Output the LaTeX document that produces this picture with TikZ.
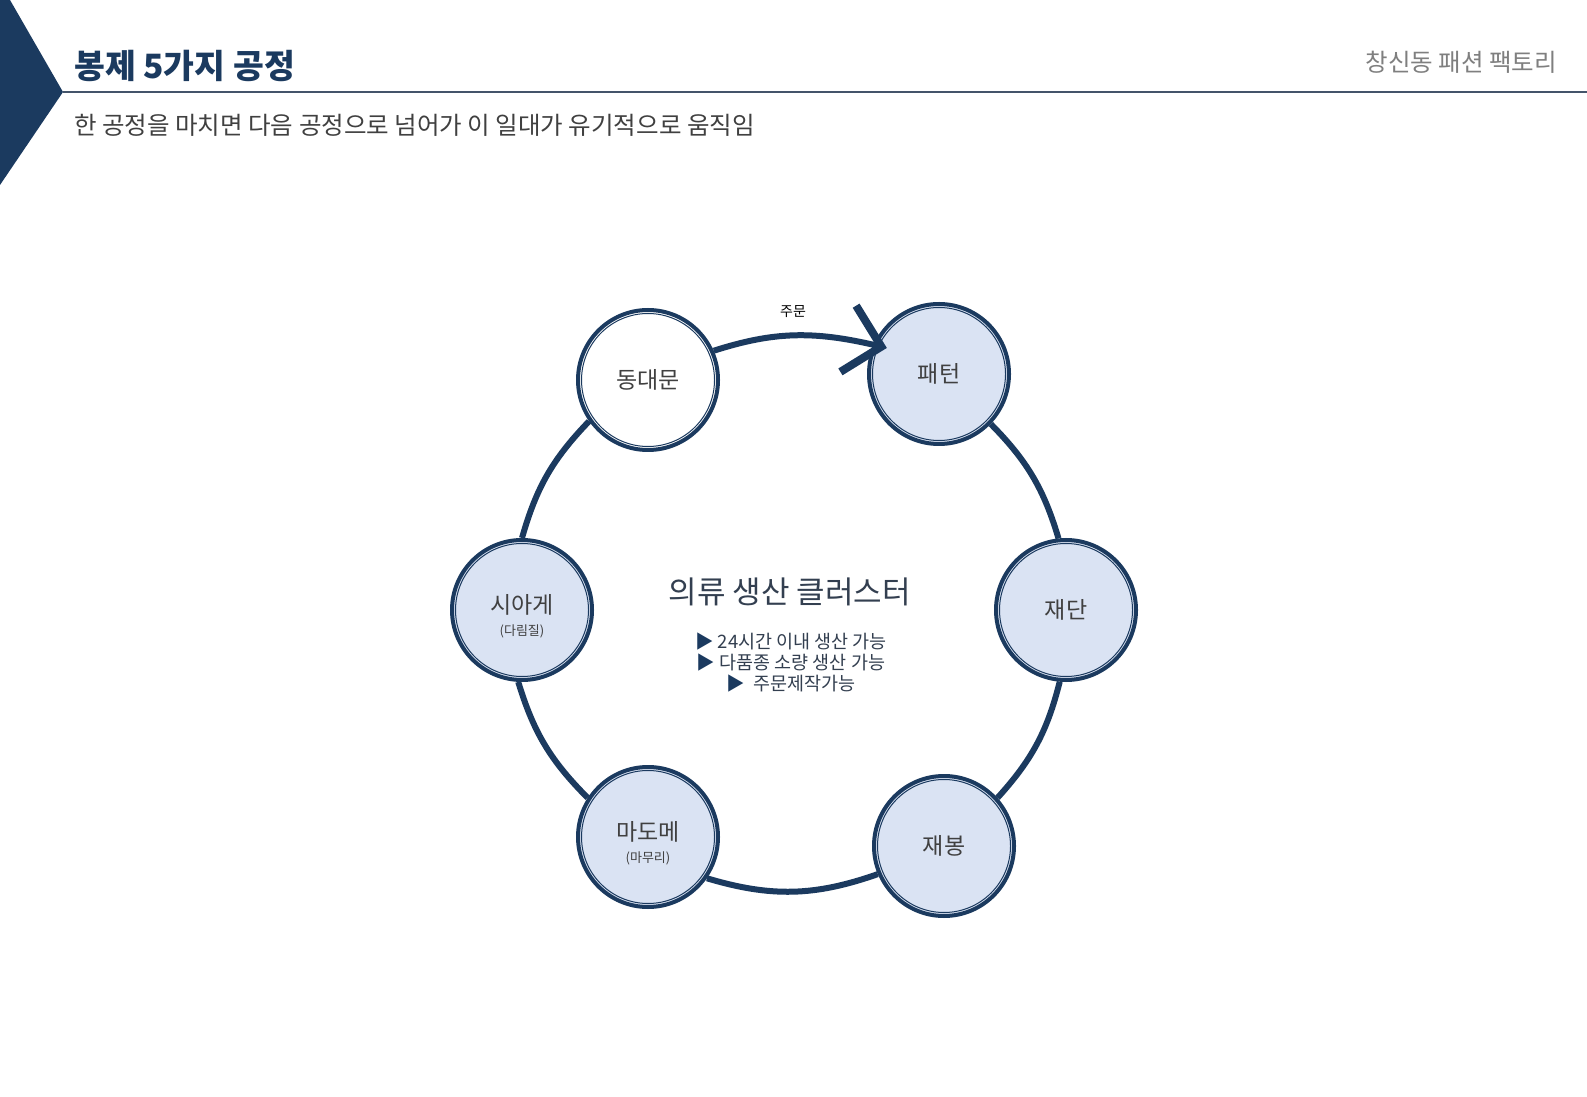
\documentclass[tikz,border=0pt]{standalone}
\usepackage{fontspec}
\setmainfont{Noto Sans CJK KR}
\usetikzlibrary{arrows.meta}
\definecolor{navy}{HTML}{1B3A5F}
\definecolor{paleblue}{HTML}{DAE3F3}
\definecolor{inkgray}{HTML}{404040}
\definecolor{slate}{HTML}{333F50}
\definecolor{rulegray}{HTML}{44546A}
\definecolor{softgray}{HTML}{7F7F7F}
\tikzset{
  stage/.style={circle, draw=navy, line width=4pt, fill=paleblue, minimum size=140pt, inner sep=0pt,
    align=center, text=inkgray, font=\fontsize{23}{26}\selectfont,
    path picture={\draw[navy, line width=1pt] (path picture bounding box.center) circle[radius=66.5pt];}},
  ring/.style={draw=navy, line width=6pt},
  order/.style={ring, -{Straight Barb[length=34pt, width=68pt, line width=8pt]}, shorten >=-14pt}
}
\newcommand{\twoline}[2]{\rule{0pt}{32pt}#1\\[-4pt]{\fontsize{13}{16}\selectfont #2}}
\begin{document}
\begin{tikzpicture}[x=1pt, y=1pt]
\path[use as bounding box, fill=white] (0,0) rectangle (1587,1096);
\fill[navy] (0,1096) -- (10,1096) -- (63,1004) -- (0,911) -- cycle;
\draw[rulegray, line width=1.2pt] (63,1004) -- (1587,1004);
\node[anchor=base west, inner sep=0pt, text=navy, font=\fontsize{33.5}{40}\selectfont\bfseries] (title) at (74,1017) {봉제 5가지 공정};
\node[anchor=base west, inner sep=0pt, text=inkgray, font=\fontsize{24.5}{29}\selectfont] (subtitle) at (74,961) {한 공정을 마치면 다음 공정으로 넘어가 이 일대가 유기적으로 움직임};
\node[anchor=base east, inner sep=0pt, text=softgray, font=\fontsize{24.5}{29}\selectfont] (brand) at (1557,1024) {창신동 패션 팩토리};

\node[stage, fill=white] (dongdaemun) at (648,716) {동대문};
\node[stage] (pattern) at (939,722) {패턴};
\node[stage] (cutting) at (1066,486) {재단};
\node[stage] (sewing) at (944,250) {재봉};
\node[stage] (finishing) at (648,259) {\twoline{마도메}{(마무리)}};
\node[stage] (ironing) at (522,486) {\twoline{시아게}{(다림질)}};

\draw[order] (dongdaemun.24) to[bend left=15.5] node[midway, yshift=23.5pt, text=black, font=\fontsize{14}{17}\selectfont] (orderlabel) {주문} (pattern.156);
\draw[ring] (pattern.-44) to[bend left=14] (cutting.96);
\draw[ring] (cutting.-95) to[bend left=14] (sewing.42);
\draw[ring] (sewing.-157) to[bend left=18] (finishing.-35);
\draw[ring] (finishing.147) to[bend left=14] (ironing.-93);
\draw[ring] (ironing.90) to[bend left=14] (dongdaemun.-145);

\node[text=slate, font=\fontsize{31}{37}\selectfont] (cluster) at (790,504) {의류 생산 클러스터};
\node[align=center, text=slate, font=\fontsize{18.5}{21}\selectfont] (merits) at (791,433) {\textcolor{navy}{▶} 24시간 이내 생산 가능\\\textcolor{navy}{▶} 다품종 소량 생산 가능\\\textcolor{navy}{▶}\ \ 주문제작가능};
\end{tikzpicture}
\end{document}
